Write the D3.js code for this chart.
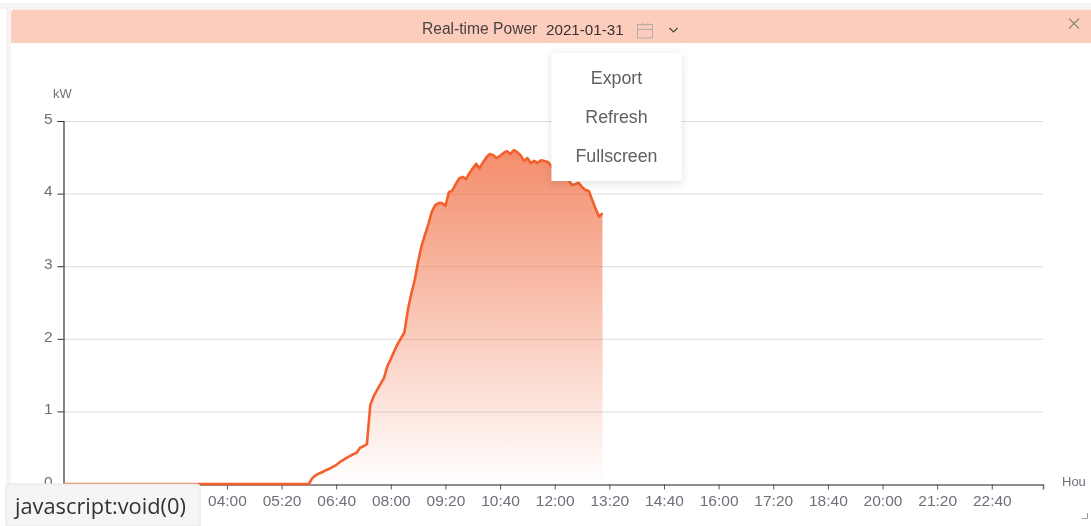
<!DOCTYPE html>
<html>
<head>
<meta charset="utf-8">
<script src="https://cdn.jsdelivr.net/npm/d3@7"></script>
<style>
html,body{margin:0;padding:0;background:#fff;overflow:hidden}
svg{display:block;font-family:"Liberation Sans",Arial,sans-serif;filter:blur(.35px)}
</style>
</head>
<body>
<svg id="c" width="1091" height="526"></svg>
<script>
// values from 06:00 (index 72) to 13:10, one every five minutes, in kW
const startIndex = 72;
const powerValues = [0,.08,.12,.145,.165,.19,.21,.235,.26,.30,.33,.36,.385,.41,.43,.50,.52,.55,
1.09,1.21,1.295,1.38,1.46,1.625,1.72,1.83,1.93,2.01,2.09,2.40,2.62,2.81,3.06,3.28,3.43,3.58,3.75,3.84,3.87,3.87,3.83,
4.02,4.04,4.13,4.21,4.23,4.20,4.28,4.35,4.41,4.35,4.43,4.50,4.545,4.53,4.49,4.52,4.56,4.585,4.545,4.60,4.57,4.53,4.45,4.49,4.42,4.45,4.42,4.46,4.45,4.435,4.38,
4.35,4.33,4.30,4.26,4.19,4.12,4.13,4.15,4.09,4.05,4.035,3.91,3.79,3.68,3.73];
const yTicks = [0,1,2,3,4,5];
const menuItems = ["Export","Refresh","Fullscreen"];
const titleText = "Real-time Power";
const dateText = "2021-01-31";
const tooltipText = "javascript:void(0)";
const pad = n => String(n).padStart(2,"0");
const times = d3.range(288).map(i => pad(Math.floor(i*5/60))+":"+pad(i*5%60));
// the labels before 04:00 lie behind the link tooltip in the reference
const xTickLabels = times.filter((t,i) => i%16===0 && i>=48);

const svg = d3.select("#c");
const defs = svg.append("defs");
const grad = defs.append("linearGradient").attr("id","ag").attr("x1",0).attr("x2",0).attr("y1",0).attr("y2",1);
grad.append("stop").attr("offset","0%").attr("stop-color","#f0673a").attr("stop-opacity",.75);
grad.append("stop").attr("offset","100%").attr("stop-color","#f0673a").attr("stop-opacity",0);
const sh = defs.append("filter").attr("id","sh").attr("x","-20%").attr("y","-20%").attr("width","140%").attr("height","140%");
sh.append("feDropShadow").attr("dx",0).attr("dy",2).attr("stdDeviation",4).attr("flood-color","#000").attr("flood-opacity",.13);
defs.append("clipPath").attr("id","hc").append("rect").attr("x",1055).attr("y",470).attr("width",31).attr("height",20);

// page frame
svg.append("rect").attr("x",0).attr("y",3).attr("width",1091).attr("height",6).attr("fill","#f6f4f3");
svg.append("rect").attr("x",6).attr("y",3).attr("width",5).attr("height",523).attr("fill","#f6f4f3");
svg.append("path").attr("d","M11 43V13a3.5 3.5 0 0 1 3.5-3.5H1091V43Z").attr("fill","#fccdbc");

const x = d3.scalePoint().domain(times).range([63,1043]);
const y = d3.scaleLinear().domain([0,5]).range([484,121]);

// grid
svg.append("g").selectAll("line").data(yTicks.slice(1)).join("line")
  .attr("x1",63).attr("x2",1043).attr("y1",d=>y(d)+.5).attr("y2",d=>y(d)+.5)
  .attr("stroke","#dcdcdc").attr("stroke-width",1);

// axes
const ax = svg.append("g").attr("transform","translate(0,484.5)")
  .call(d3.axisBottom(x).tickValues(xTickLabels).tickSize(5).tickPadding(5));
ax.select(".domain").attr("stroke","#6a6a6a").attr("stroke-width",1.5);
ax.selectAll(".tick line").attr("stroke","#555");
ax.selectAll("text").attr("font-size",15.5).attr("fill","#6e7079").attr("font-family","Liberation Sans");
const ay = svg.append("g").attr("transform","translate(63.5,0)")
  .call(d3.axisLeft(y).tickValues(yTicks).tickSize(6).tickPadding(5).tickFormat(d3.format("d")));
ay.select(".domain").attr("stroke","#333").attr("stroke-width",1.2);
ay.selectAll(".tick line").attr("stroke","#333");
ay.selectAll("text").attr("font-size",15.5).attr("fill","#6e7079").attr("font-family","Liberation Sans").attr("dy","0.15em");
svg.append("text").attr("x",53).attr("y",98).attr("font-size",13).attr("fill","#6e7079").text("kW");
svg.append("text").attr("x",1062).attr("y",486).attr("font-size",13).attr("fill","#6e7079").attr("clip-path","url(#hc)").text("Hou");

// series
const pts = powerValues.map((v,i)=>({t:times[startIndex+i],v}));
const full = times.slice(0,startIndex).map(t=>({t,v:0})).concat(pts);
svg.append("path").datum(full)
  .attr("d",d3.area().x(d=>x(d.t)).y0(y(0)).y1(d=>y(d.v)))
  .attr("fill","url(#ag)");
svg.append("path").datum(full)
  .attr("d",d3.line().x(d=>x(d.t)).y(d=>y(d.v)))
  .attr("fill","none").attr("stroke","#f4602c").attr("stroke-width",2.6).attr("stroke-linejoin","round");

// header
svg.append("text").attr("x",422).attr("y",33.5).attr("font-size",15.6).attr("fill","#4a4240").text(titleText);
svg.append("text").attr("x",546).attr("y",35).attr("font-size",15.2).attr("fill","#3a3230").text(dateText);
const ic = svg.append("g").attr("fill","none").attr("stroke","#b9aba6").attr("stroke-width",1);
ic.append("rect").attr("x",637.5).attr("y",24.5).attr("width",15).attr("height",13.5);
ic.append("path").attr("d","M637.5 29.5H652.5M642 22.5V26M648 22.5V26");
svg.append("path").attr("d","M669.5 28L673.5 32L677.5 28").attr("fill","none").attr("stroke","#4a4240").attr("stroke-width",1.2);
svg.append("path").attr("d","M1069 18.5L1079 28.5M1079 18.5L1069 28.5").attr("fill","none").attr("stroke","#8f8580").attr("stroke-width",1.1);

// menu
svg.append("rect").attr("x",551.5).attr("y",53).attr("width",130).attr("height",128).attr("fill","#fff").attr("filter","url(#sh)");
svg.append("g").selectAll("text").data(menuItems).join("text")
  .attr("x",616.5).attr("y",(d,i)=>84+i*39).attr("text-anchor","middle").attr("font-size",17.8).attr("fill","#606060").text(d=>d);

// resize mark and link tooltip
svg.append("path").attr("d","M1087.5 513V518.5H1082").attr("fill","none").attr("stroke","#9a9a9a").attr("stroke-width",1);
svg.append("path").attr("d","M6 526V484H197a3 3 0 0 1 3 3V526Z").attr("fill","#f5f5f5").attr("stroke","#e6e6e6").attr("stroke-width",1);
svg.append("text").attr("x",15).attr("y",514).attr("font-size",21.8).attr("fill","#333").attr("font-family","Open Sans").text(tooltipText);
</script>
</body>
</html>
